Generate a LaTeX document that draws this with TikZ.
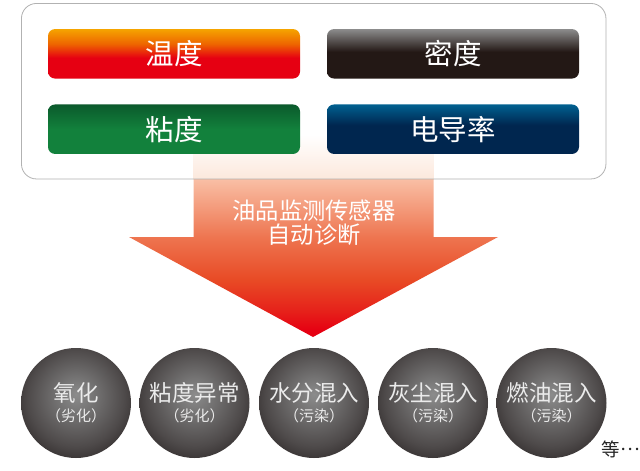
\documentclass[tikz,border=0pt]{standalone}
\usepackage{fontspec}
\setmainfont{Noto Sans CJK SC}
\definecolor{c-red}{HTML}{E60012}
\definecolor{c-ormid}{HTML}{EE6500}
\definecolor{c-org}{HTML}{F5A400}
\definecolor{c-blk}{HTML}{231815}
\definecolor{c-gry}{HTML}{8C8C8C}
\definecolor{c-grn}{HTML}{12813C}
\definecolor{c-dgrn}{HTML}{0B5A2C}
\definecolor{c-nav}{HTML}{00264F}
\definecolor{c-blu}{HTML}{006090}
\definecolor{c-a0}{HTML}{E60012}
\definecolor{c-a0b}{HTML}{E6201A}
\definecolor{c-a1}{HTML}{E84A25}
\definecolor{c-a2}{HTML}{EE7550}
\definecolor{c-a3}{HTML}{F9BFA5}
\definecolor{c-f0}{HTML}{FCE8DC}
\definecolor{c-b0}{HTML}{8C8C8C}
\definecolor{c-b1}{HTML}{757474}
\definecolor{c-b2}{HTML}{4E4A4A}
\definecolor{c-b3}{HTML}{312C2C}
\pgfdeclareverticalshading{shtemp}{100bp}{color(0bp)=(c-red); color(46bp)=(c-red); color(60bp)=(c-ormid); color(75bp)=(c-org); color(100bp)=(c-org)}
\pgfdeclareverticalshading{shdens}{100bp}{color(0bp)=(c-blk); color(52bp)=(c-blk); color(75bp)=(c-gry); color(100bp)=(c-gry)}
\pgfdeclareverticalshading{shvisc}{100bp}{color(0bp)=(c-grn); color(50bp)=(c-grn); color(75bp)=(c-dgrn); color(100bp)=(c-dgrn)}
\pgfdeclareverticalshading{shcond}{100bp}{color(0bp)=(c-nav); color(54bp)=(c-nav); color(75bp)=(c-blu); color(100bp)=(c-blu)}
\pgfdeclareverticalshading{sharrow}{100bp}{color(0bp)=(c-a0); color(27bp)=(c-a0); color(33bp)=(c-a0b); color(43bp)=(c-a1); color(56.6bp)=(c-a2); color(75bp)=(c-a3); color(100bp)=(c-a3)}
\pgfdeclareverticalshading{shfade}{100bp}{color(0bp)=(c-f0); color(25bp)=(c-f0); color(75bp)=(white); color(100bp)=(white)}
\pgfdeclareradialshading{shball}{\pgfpoint{0bp}{4bp}}{color(0bp)=(c-b0); color(8bp)=(c-b1); color(22bp)=(c-b2); color(30bp)=(c-b3); color(50bp)=(c-b3)}
\tikzset{
  x=1pt,y=-1pt,
  valuebox/.style={rectangle,rounded corners=7pt,minimum width=252pt,minimum height=49.5pt,inner sep=0pt,text=white,font=\fontsize{28.5}{30}\selectfont,anchor=center},
  ball/.style={circle,minimum size=110pt,inner sep=0pt,shading=shball,text=white!92!black,align=center,font=\fontsize{22.5}{21}\selectfont}
}
\newcommand{\smalltxt}{\fontsize{15}{21}\selectfont}
\begin{document}
\begin{tikzpicture}
\useasboundingbox (0,0) rectangle (640,471);
\fill[white] (0,0) rectangle (640,471);
% arrow
\shade[shading=shfade] (193.5,135) rectangle (433.5,179);
\shade[shading=sharrow] (193.5,179) -- (433.5,179) -- (433.5,237) -- (498,237) -- (313,337) -- (129,237) -- (193.5,237) -- cycle;
% frame
\node[draw=black!30,line width=.8pt,rectangle,rounded corners=15pt,minimum width=584.5pt,minimum height=175.5pt,inner sep=0pt] (frame) at (313.7,91.2) {};
% value boxes
\node[valuebox,shading=shtemp] (temp) at (174,53.8) {温度};
\node[valuebox,shading=shdens] (dens) at (453,53.8) {密度};
\node[valuebox,shading=shvisc] (visc) at (174,129.2) {\raisebox{-.7pt}{粘度}};
\node[valuebox,shading=shcond] (cond) at (453,129.2) {\raisebox{-.7pt}{电导率}};
% arrow text
\node[text=white,align=center,font=\fontsize{23.3}{25}\selectfont] (diag) at (314,223) {油品监测传感器\\[-1pt]自动诊断};
% balls
\node[ball] (b1) at (76,403) {氧化\\[-1pt]{\smalltxt （劣化）}};
\node[ball] (b2) at (194.5,403) {\raisebox{2pt}{粘度异常}\\[-1pt]{\smalltxt\raisebox{2pt}{（劣化）}}};
\node[ball] (b3) at (314,403) {水分混入\\[-1pt]{\smalltxt （污染）}};
\node[ball] (b4) at (433,403) {灰尘混入\\[-1pt]{\smalltxt （污染）}};
\node[ball] (b5) at (551.5,403) {燃油混入\\[-1pt]{\smalltxt （污染）}};
\node[text=black!85,inner sep=0pt,font=\fontsize{18.5}{20}\selectfont,anchor=east] (etc) at (640,449) {等\raisebox{5.5pt}{…}};
\end{tikzpicture}
\end{document}
